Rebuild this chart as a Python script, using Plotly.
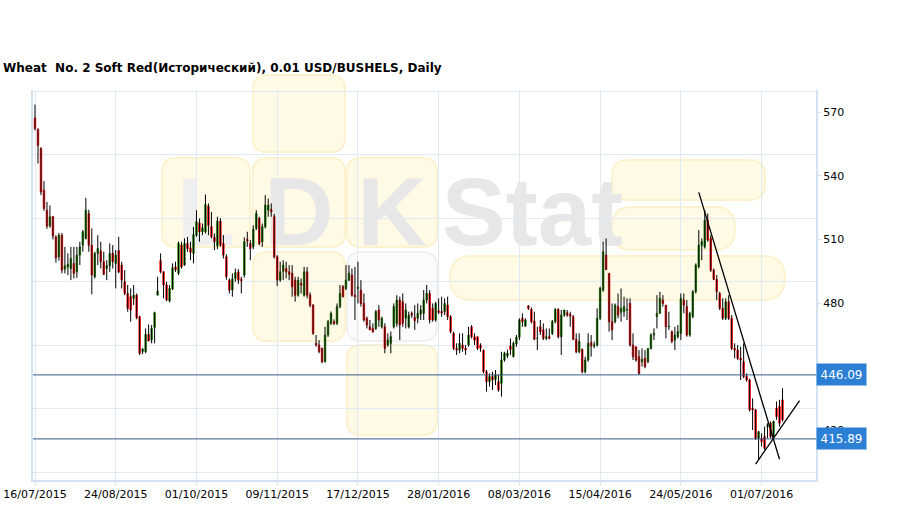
import numpy as np
import pandas as pd
import plotly.graph_objects as go

# ---------------- data ----------------
title_text = "Wheat\u00a0 No. 2 Soft Red(Исторический), 0.01 USD/BUSHELS, Daily"

first_date = "2015-07-16"
holidays = ["2015-09-07", "2015-11-26", "2015-12-25", "2016-01-01", "2016-01-18",
            "2016-02-15", "2016-03-25", "2016-05-30", "2016-07-04"]

open_ = [
    567.3, 561.8, 552.9, 533.2, 523.8, 516.4, 520.7, 511.2, 501.8, 512.0,
    496.0, 497.0, 496.3, 498.7, 494.7, 502.6, 507.3, 510.5, 522.2, 507.3,
    492.4, 503.4, 504.5, 499.5, 496.3, 497.5, 503.4, 498.7, 504.7, 497.9,
    490.0, 484.5, 483.0, 482.2, 483.7, 473.5, 457.2, 457.0, 465.2, 462.6,
    468.5, 483.7, 500.0, 494.7, 488.5, 481.0, 486.6, 497.0, 494.0, 507.3,
    497.9, 508.1, 506.0, 503.4, 512.0, 517.8, 513.6, 513.6, 525.7, 516.0,
    511.0, 507.0, 518.6, 508.1, 501.8, 490.8, 486.1, 491.6, 494.7, 491.2,
    493.2, 510.0, 508.1, 506.5, 515.2, 519.9, 508.9, 516.0, 523.8, 524.1,
    520.7, 501.8, 490.8, 495.0, 496.3, 494.7, 494.0, 490.8, 483.7, 489.2,
    483.7, 494.7, 483.7, 479.0, 461.0, 460.2, 458.6, 452.3, 464.9, 470.4,
    471.2, 470.4, 478.3, 487.7, 486.9, 490.8, 493.2, 483.7, 486.9, 486.1,
    479.8, 472.8, 468.8, 468.0, 468.0, 476.7, 468.8, 468.8, 460.2, 461.0,
    468.8, 470.4, 481.4, 480.6, 472.8, 468.8, 475.1, 473.2, 472.8, 474.8,
    475.1, 481.4, 484.5, 477.5, 472.0, 476.3, 476.0, 475.9, 479.0, 473.5,
    465.7, 458.6, 457.8, 460.2, 458.6, 460.2, 468.8, 464.1, 464.1, 460.2,
    457.8, 447.6, 442.9, 445.3, 443.7, 442.9, 442.1, 453.1, 455.0, 459.7,
    454.7, 460.7, 463.8, 472.8, 469.1, 478.6, 477.0, 471.5, 463.3, 468.8,
    467.3, 463.3, 464.1, 465.7, 471.2, 477.0, 464.1, 474.3, 475.4, 474.6,
    473.5, 462.9, 457.0, 458.1, 447.6, 453.1, 461.3, 459.7, 460.2, 472.8,
    486.1, 502.6, 494.0, 471.2, 471.2, 478.3, 475.6, 475.9, 476.7, 479.8,
    460.2, 459.4, 454.7, 452.3, 453.9, 452.3, 458.6, 464.9, 473.6, 475.1,
    481.4, 479.0, 468.8, 466.5, 462.5, 464.1, 465.7, 481.4, 478.3, 464.9,
    473.6, 485.3, 497.1, 507.3, 506.5, 519.1, 510.5, 495.5, 491.2, 484.5,
    477.5, 472.8, 480.6, 472.8, 458.6, 457.8, 453.9, 452.3, 445.3, 443.7,
    430.4, 429.6, 416.2, 416.2, 417.0, 421.7, 423.3, 417.0, 430.4, 431.2,
    434.3,
]
high = [
    573.6, 562.5, 553.5, 537.5, 527.7, 526.0, 521.0, 512.0, 513.0, 513.0,
    506.5, 503.4, 506.5, 506.5, 506.5, 508.9, 514.4, 529.6, 524.0, 515.2,
    504.2, 512.0, 508.9, 504.2, 500.2, 508.1, 507.3, 505.0, 511.2, 499.5,
    495.5, 488.5, 486.9, 488.5, 484.5, 474.0, 458.8, 468.0, 469.9, 469.6,
    475.9, 492.4, 503.4, 495.0, 490.0, 488.5, 498.7, 499.5, 509.0, 508.9,
    510.5, 511.2, 508.9, 515.9, 523.8, 519.9, 517.5, 531.2, 527.0, 523.0,
    512.8, 520.7, 520.0, 512.0, 503.0, 491.6, 494.0, 496.3, 496.0, 492.4,
    511.0, 513.6, 509.7, 516.7, 523.8, 520.7, 517.5, 530.9, 529.3, 527.0,
    522.0, 502.6, 499.5, 500.2, 499.5, 497.9, 497.9, 492.4, 492.4, 491.6,
    497.1, 497.0, 485.0, 479.5, 464.9, 462.5, 459.0, 468.8, 472.0, 476.0,
    472.3, 479.8, 488.5, 488.5, 497.9, 497.9, 496.3, 497.1, 499.5, 490.8,
    484.5, 473.6, 472.0, 470.4, 476.7, 479.0, 473.6, 470.4, 465.7, 466.5,
    479.8, 483.7, 483.0, 484.5, 479.8, 475.9, 476.0, 479.0, 479.8, 479.0,
    486.1, 488.5, 486.1, 479.8, 480.6, 482.2, 483.0, 482.2, 483.0, 474.3,
    466.5, 461.0, 465.7, 465.7, 460.2, 468.8, 469.6, 465.7, 464.1, 461.0,
    458.0, 448.4, 446.8, 447.6, 448.4, 446.1, 457.0, 457.0, 458.0, 463.3,
    461.8, 464.9, 472.8, 475.1, 472.8, 479.0, 477.9, 475.9, 468.8, 472.0,
    470.4, 468.0, 468.0, 472.0, 477.5, 477.5, 476.7, 476.7, 476.7, 475.9,
    474.3, 465.7, 465.7, 458.6, 454.7, 465.7, 464.9, 461.8, 477.5, 487.7,
    508.9, 510.5, 494.0, 479.8, 479.8, 484.5, 486.9, 483.0, 482.2, 482.2,
    465.7, 459.4, 457.8, 458.6, 457.8, 458.6, 465.7, 468.0, 483.7, 485.3,
    483.7, 479.0, 475.9, 467.0, 468.8, 469.6, 484.5, 484.5, 481.4, 475.9,
    486.1, 498.7, 514.4, 510.5, 523.8, 522.2, 512.0, 496.3, 493.2, 485.3,
    482.2, 482.2, 483.7, 474.3, 461.0, 460.2, 459.4, 461.0, 446.8, 444.2,
    435.0, 430.0, 419.6, 418.6, 421.7, 423.3, 424.1, 424.5, 433.5, 434.3,
    439.8,
]
low = [
    561.5, 545.8, 530.9, 523.5, 515.0, 515.5, 510.0, 499.0, 500.0, 494.0,
    494.0, 493.2, 490.8, 491.6, 491.9, 497.9, 504.2, 510.0, 504.2, 484.1,
    491.6, 497.9, 496.3, 493.2, 490.8, 494.7, 496.3, 486.9, 494.0, 486.9,
    483.7, 475.9, 471.2, 479.0, 472.3, 455.5, 455.9, 456.3, 462.0, 461.0,
    461.0, 483.7, 494.0, 482.2, 480.9, 480.3, 486.1, 494.7, 493.2, 496.3,
    497.6, 504.2, 500.2, 498.7, 511.2, 508.9, 512.0, 512.8, 512.0, 510.5,
    505.0, 505.4, 506.5, 501.0, 491.0, 484.5, 483.0, 490.0, 489.0, 484.5,
    492.0, 506.5, 500.2, 505.4, 514.4, 507.3, 506.5, 515.2, 520.7, 520.7,
    501.0, 488.0, 490.0, 490.8, 491.6, 490.8, 483.0, 480.6, 483.0, 484.5,
    483.0, 482.2, 478.0, 465.0, 459.4, 456.3, 451.6, 451.9, 464.0, 469.6,
    469.6, 469.6, 477.5, 482.6, 486.1, 490.4, 483.0, 472.0, 479.8, 478.3,
    471.2, 468.0, 467.3, 466.0, 467.3, 468.8, 468.0, 456.3, 459.4, 456.3,
    468.0, 468.8, 462.5, 468.8, 468.0, 468.0, 473.0, 467.3, 470.4, 472.0,
    472.0, 479.8, 470.4, 471.2, 471.2, 474.8, 473.5, 474.3, 472.0, 465.7,
    457.8, 455.5, 456.3, 457.0, 455.5, 459.4, 463.3, 460.2, 457.8, 457.0,
    446.8, 438.2, 440.6, 439.0, 441.3, 438.2, 435.8, 452.3, 454.0, 455.5,
    454.4, 459.4, 462.5, 468.8, 468.8, 476.7, 470.4, 462.5, 457.8, 464.9,
    462.5, 462.5, 462.9, 464.9, 470.4, 463.3, 455.5, 473.5, 473.5, 468.8,
    462.5, 456.3, 456.3, 446.8, 446.8, 452.3, 454.7, 458.6, 459.4, 472.0,
    485.3, 495.5, 466.5, 462.5, 470.4, 472.8, 471.2, 473.5, 472.0, 459.4,
    453.1, 452.3, 446.1, 450.0, 449.2, 451.6, 458.0, 462.5, 468.0, 475.1,
    478.3, 463.3, 467.3, 461.0, 457.8, 463.3, 462.5, 475.1, 464.1, 464.1,
    472.8, 484.5, 496.3, 500.2, 505.7, 508.9, 494.7, 490.8, 481.4, 476.7,
    472.0, 472.0, 472.0, 457.8, 453.9, 453.1, 443.7, 444.5, 442.9, 428.8,
    420.1, 415.4, 406.0, 412.3, 410.7, 416.2, 416.2, 415.4, 424.9, 421.7,
    424.1,
]
close = [
    562.3, 554.4, 532.4, 524.6, 516.3, 520.7, 511.7, 501.3, 512.0, 495.5,
    497.5, 498.3, 501.0, 494.0, 502.6, 506.5, 513.6, 523.8, 507.3, 493.2,
    503.4, 505.7, 499.5, 493.6, 497.6, 503.4, 499.5, 502.6, 494.7, 490.8,
    484.5, 477.5, 476.7, 483.7, 473.1, 456.3, 458.1, 465.2, 462.1, 468.0,
    475.4, 485.6, 494.7, 488.5, 481.4, 486.9, 496.6, 495.7, 508.1, 497.1,
    508.1, 505.7, 503.9, 512.3, 518.3, 513.6, 515.4, 526.5, 516.7, 511.2,
    508.9, 518.6, 507.3, 502.6, 492.4, 486.1, 491.3, 494.3, 490.8, 490.4,
    508.9, 509.3, 505.7, 514.7, 522.2, 508.1, 516.0, 526.2, 526.2, 523.0,
    501.8, 490.8, 494.7, 497.9, 494.7, 493.6, 487.7, 483.7, 490.8, 488.5,
    494.7, 483.7, 479.0, 465.7, 460.2, 457.1, 452.3, 464.9, 471.2, 475.1,
    470.4, 478.3, 484.5, 483.0, 490.8, 494.0, 483.7, 483.0, 487.4, 479.8,
    472.0, 469.6, 467.3, 466.5, 475.9, 472.0, 472.8, 458.6, 462.6, 464.1,
    478.3, 481.4, 469.6, 470.4, 476.7, 474.3, 474.3, 471.7, 475.1, 476.7,
    481.4, 484.5, 472.0, 472.0, 479.8, 475.6, 475.3, 479.8, 473.5, 466.5,
    458.6, 457.8, 461.0, 458.6, 457.8, 464.9, 464.1, 462.5, 458.6, 458.6,
    447.6, 442.9, 445.3, 443.7, 446.1, 439.0, 453.1, 456.3, 456.3, 458.1,
    461.0, 463.8, 472.0, 471.2, 472.0, 477.5, 471.2, 462.9, 463.3, 466.5,
    463.3, 464.1, 463.3, 471.2, 477.0, 464.1, 474.3, 476.7, 474.3, 473.8,
    462.9, 457.0, 461.8, 447.6, 453.1, 461.0, 459.7, 460.2, 472.8, 486.9,
    504.2, 495.8, 471.2, 467.3, 479.0, 474.3, 477.5, 478.3, 476.9, 460.2,
    454.7, 453.1, 446.8, 453.4, 450.0, 458.6, 464.9, 465.7, 475.1, 482.2,
    479.8, 468.8, 469.0, 461.8, 464.9, 466.5, 482.2, 479.0, 464.9, 475.1,
    485.3, 497.9, 507.3, 508.9, 519.1, 509.7, 495.5, 491.2, 485.3, 477.5,
    472.8, 480.6, 472.8, 458.6, 457.8, 453.9, 453.1, 445.3, 443.7, 429.6,
    429.6, 416.2, 419.3, 414.6, 411.5, 422.5, 417.0, 424.1, 426.4, 423.3,
    424.9,
]

tick_labels = ["16/07/2015", "24/08/2015", "01/10/2015", "09/11/2015", "17/12/2015",
               "28/01/2016", "08/03/2016", "15/04/2016", "24/05/2016", "01/07/2016"]
y_tick_values = [420, 450, 480, 510, 540, 570]
y_tick_text = ["420", "", "480", "510", "540", "570"]   # 450 is hidden under the level label
y_grid_values = [400, 430, 460, 490, 520, 550, 580]
levels = [446.09, 415.89]
# trend lines drawn on the chart (bar position, price)
trend_x0 = [222.0, 241.0]
trend_y0 = [532.2, 404.0]
trend_x1 = [249.0, 255.7]
trend_y1 = [406.3, 434.0]

# ---------------- styles ----------------
GREEN = "#358a1c"
RED = "#ff1e1e"
GRID = "#dfeaf5"
AXIS = "#d3e2f1"
LEVEL = "#3a5a86"
BOX = "#2b80d5"
W, H = 909, 509
L, R, T, B = 33, 93, 90, 29
PW, PH = W - L - R, H - T - B

n = len(close)
bday = pd.offsets.CustomBusinessDay(holidays=holidays)
dates = pd.date_range(first_date, periods=n, freq=bday).strftime("%d/%m/%Y").tolist()
pos = list(range(n))
tickvals = [dates.index(t) for t in tick_labels]

fig = go.Figure()

# wicks (black)
wx, wy = [], []
for i in pos:
    wx += [i, i, None]
    wy += [low[i], high[i], None]
fig.add_trace(go.Scatter(x=wx, y=wy, mode="lines", line=dict(color="black", width=1),
                         hoverinfo="skip", showlegend=False))

# bodies
body_hi = np.maximum(open_, close)
body_lo = np.minimum(open_, close)
fig.add_trace(go.Candlestick(
    x=pos, open=open_, high=body_hi, low=body_lo, close=close,
    text=dates, whiskerwidth=0,
    increasing=dict(line=dict(color=GREEN, width=1), fillcolor=GREEN),
    decreasing=dict(line=dict(color=RED, width=1), fillcolor=RED),
    showlegend=False))


def P(x, y):
    return f"{(x - L) / PW:.5f},{(H - B - y) / PH:.5f}"


def rr_path(x0, y0, x1, y1, r):
    return (f"M{P(x0 + r, y0)} L{P(x1 - r, y0)} Q{P(x1, y0)} {P(x1, y0 + r)} "
            f"L{P(x1, y1 - r)} Q{P(x1, y1)} {P(x1 - r, y1)} L{P(x0 + r, y1)} "
            f"Q{P(x0, y1)} {P(x0, y1 - r)} L{P(x0, y0 + r)} Q{P(x0, y0)} {P(x0 + r, y0)} Z")


shapes = []
YF, YL = "#fefae6", "#fcf2cf"
wm = [
    (253, 75, 345, 152, 14, YF, YL),
    (162, 158, 250, 247, 14, YF, YL),
    (253, 158, 345, 247, 14, YF, YL),
    (347, 158, 437, 247, 14, YF, YL),
    (253, 252, 345, 341, 14, YF, YL),
    (347, 252, 437, 341, 14, "#fbfbfb", "#f0f0f0"),
    (347, 345, 437, 435, 14, YF, YL),
    (612, 160, 765, 200, 16, YF, YL),
    (612, 207, 735, 250, 20, YF, YL),
    (450, 256, 785, 300, 22, YF, YL),
]
for x0, y0, x1, y1, r, fc, lc in wm:
    shapes.append(dict(type="path", xref="paper", yref="paper", layer="below",
                       path=rr_path(x0, y0, x1, y1, r), fillcolor=fc,
                       line=dict(color=lc, width=2)))

letters = [("L", 162, 158, 250, 247, "#efefef"), ("D", 253, 158, 345, 247, "#e7e7e7"),
           ("K", 347, 158, 437, 247, "#e7e7e7"), ("Stat", 445, 158, 620, 247, "#e7e7e7")]
for txt, x0, y0, x1, y1, col in letters:
    shapes.append(dict(type="rect", xref="paper", yref="paper", layer="below",
                       x0=(x0 - L) / PW, x1=(x1 - L) / PW,
                       y0=(H - B - y1) / PH, y1=(H - B - y0) / PH,
                       line=dict(width=0), fillcolor="rgba(0,0,0,0)",
                       label=dict(text=f"<b>{txt}</b>", textposition="middle center",
                                  font=dict(family="Liberation Sans", size=96, color=col))))

for v in levels:
    shapes.append(dict(type="line", xref="paper", yref="y", x0=0, x1=1, y0=v, y1=v,
                       line=dict(color=LEVEL, width=1)))
for a, b_, c, d in zip(trend_x0, trend_y0, trend_x1, trend_y1):
    shapes.append(dict(type="line", xref="x", yref="y", x0=a, y0=b_, x1=c, y1=d,
                       line=dict(color="black", width=1.3)))

annotations = []
for v in levels:
    annotations.append(dict(xref="paper", yref="y", x=1, y=v, xanchor="left", yanchor="middle",
                            text=f"{v:.2f}", showarrow=False, bgcolor=BOX, borderpad=3.5,
                            font=dict(family="DejaVu Sans", size=12, color="white")))

fig.update_layout(
    width=W, height=H, margin=dict(l=L, r=R, t=T, b=B, autoexpand=False),
    paper_bgcolor="white", plot_bgcolor="rgba(0,0,0,0)", showlegend=False,
    font=dict(family="DejaVu Sans", size=11, color="black"),
    title=dict(text=f"<b>{title_text}</b>", x=3 / W, xanchor="left", xref="container",
               y=1 - 68 / H, yanchor="middle", yref="container",
               font=dict(family="DejaVu Sans", size=12, color="black")),
    xaxis=dict(range=[-0.67, 261.2], tickmode="array", tickvals=tickvals, ticktext=tick_labels,
               showgrid=True, gridcolor=GRID, gridwidth=1, ticks="outside", ticklen=3,
               tickcolor=AXIS, showline=True, linecolor=AXIS, linewidth=2, zeroline=False,
               rangeslider=dict(visible=False), tickfont=dict(size=11), automargin=False),
    yaxis=dict(side="right", range=[396.5, 580.5], tickmode="array", tickvals=y_tick_values,
               ticktext=y_tick_text,
               showgrid=False, ticks="outside", ticklen=3, tickcolor=AXIS,
               minor=dict(tickmode="array", tickvals=y_grid_values, showgrid=True,
                          gridcolor=GRID, gridwidth=1, ticks=""),
               showline=True, mirror=True, linecolor=AXIS, linewidth=2, zeroline=False,
               tickfont=dict(size=11), automargin=False),
    shapes=shapes, annotations=annotations,
)

fig.write_html("out.html", config={"displayModeBar": False},
               post_script="document.body.style.margin='0px';document.body.style.padding='0px';")
